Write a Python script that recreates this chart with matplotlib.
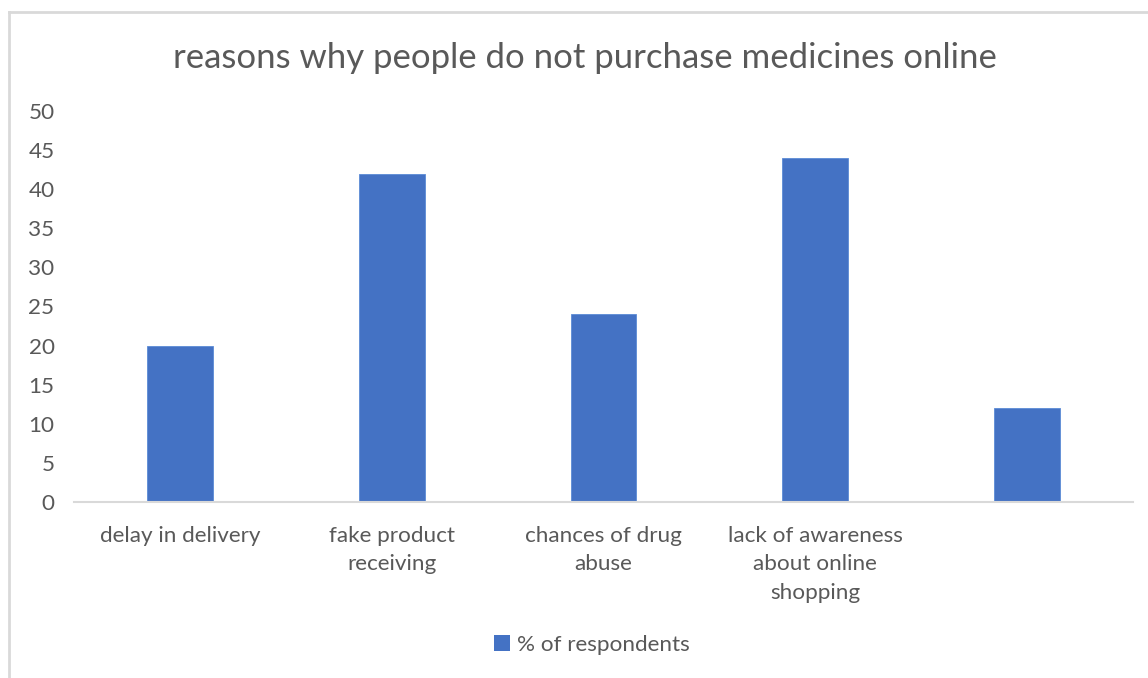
import matplotlib
matplotlib.use("Agg")
import matplotlib.pyplot as plt
from matplotlib.lines import Line2D
from matplotlib.patches import Patch

categories = ["delay in delivery", "fake product\nreceiving", "chances of drug\nabuse",
              "lack of awareness\nabout online\nshopping", ""]
values = [20, 42, 24, 44, 12]
yticks = [0, 5, 10, 15, 20, 25, 30, 35, 40, 45, 50]
series_name = "% of respondents"
title = "reasons why people do not purchase medicines online"

bar_color = "#4472C4"
text_color = "#595959"
line_color = "#D9D9D9"

plt.rcParams["font.family"] = ["Lato", "DejaVu Sans"]

W, H = 1148, 678
fig = plt.figure(figsize=(W / 100, H / 100), dpi=100)

# Chart area frame (left and top edges visible)
fig.add_artist(Line2D([9 / W, 9 / W], [0, 1 - 12 / H], transform=fig.transFigure,
                      color=line_color, lw=2))
fig.add_artist(Line2D([9 / W, 1], [1 - 12 / H, 1 - 12 / H], transform=fig.transFigure,
                      color=line_color, lw=2))

ax = fig.add_axes([74 / W, 1 - 502 / H, (1133 - 74) / W, (502 - 111) / H])
x = list(range(len(values)))
ax.bar(x, values, width=0.31, color=bar_color, edgecolor="#5B8BD6", linewidth=0.6,
       zorder=3)
ax.set_xlim(-0.5, len(values) - 0.5)
ax.set_ylim(0, 50)
ax.set_yticks(yticks)
ax.set_yticklabels([str(t) for t in yticks])
ax.set_xticks(x)
ax.set_xticklabels(categories, linespacing=1.55, va="top")

for s in ["top", "right", "left"]:
    ax.spines[s].set_visible(False)
ax.spines["bottom"].set_color(line_color)
ax.spines["bottom"].set_linewidth(1.5)
ax.spines["bottom"].set_zorder(4)
ax.tick_params(axis="both", length=0, colors=text_color, labelsize=16.2)
ax.tick_params(axis="y", pad=14)
ax.tick_params(axis="x", pad=17)

fig.text(585 / W, 1 - 58 / H, title, ha="center", va="center", fontsize=25,
         color=text_color)

leg = fig.legend(handles=[Patch(facecolor=bar_color, label=series_name)],
                 loc="center", bbox_to_anchor=(592 / W, 1 - 645 / H), frameon=False,
                 fontsize=16.2, handlelength=0.7, handleheight=0.7, handletextpad=0.35,
                 labelcolor=text_color)

fig.savefig("out.png", dpi=100, facecolor="white")
